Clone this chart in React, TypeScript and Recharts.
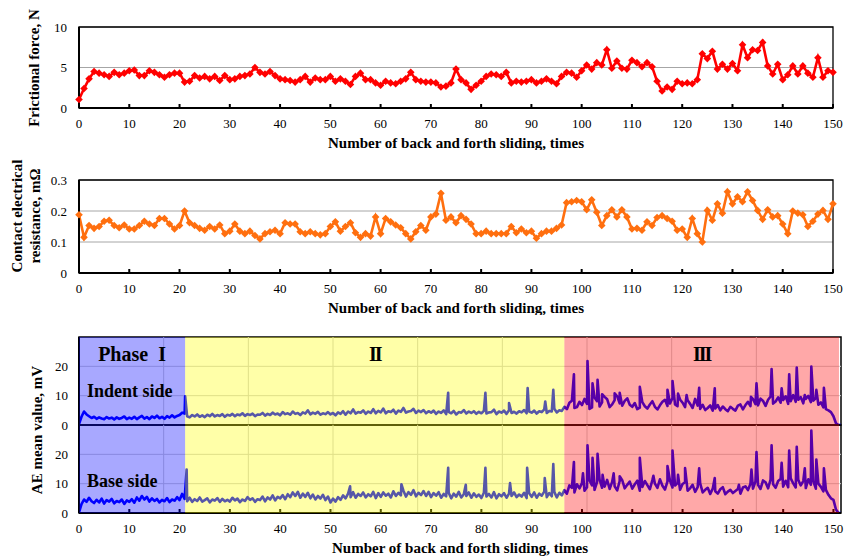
import React from 'react'
import {
  LineChart, Line, XAxis, YAxis, CartesianGrid, ReferenceArea, ReferenceLine,
} from 'recharts'

// x axis: number of back and forth sliding
const X_TICKS = [0, 10, 20, 30, 40, 50, 60, 70, 80, 90, 100, 110, 120, 130, 140, 150]

// frictional force, N (one value per sliding, 0..150)
const FRICTION = [
  1.05, 2.4, 3.6, 4.5, 4.3, 4.1, 3.9, 4.4, 4.1, 4.3,
  4.6, 4.7, 4.0, 4.0, 4.6, 4.4, 4.1, 3.8, 4.1, 4.3,
  4.3, 3.2, 3.3, 4.0, 3.7, 3.9, 3.6, 3.9, 3.4, 4.0,
  3.5, 3.6, 3.9, 4.0, 4.2, 5.0, 4.4, 4.2, 4.5, 4.0,
  3.6, 3.5, 3.4, 3.2, 3.5, 3.9, 3.2, 3.7, 3.5, 3.5,
  3.9, 3.3, 3.6, 3.3, 2.9, 3.9, 4.3, 3.5, 3.5, 3.1,
  2.8, 3.3, 3.1, 3.0, 3.3, 3.6, 4.4, 3.5, 3.3, 3.2,
  3.2, 3.1, 2.6, 2.7, 3.1, 4.8, 3.5, 3.1, 2.3, 2.8,
  3.3, 3.9, 4.2, 4.1, 3.9, 4.4, 3.1, 3.3, 3.2, 3.3,
  3.5, 3.1, 3.3, 3.6, 3.3, 3.0, 3.9, 4.4, 4.3, 3.8,
  4.6, 5.3, 4.8, 5.6, 5.3, 7.2, 4.9, 5.8, 4.9, 4.8,
  5.9, 5.6, 5.1, 5.6, 5.1, 3.3, 2.1, 2.6, 2.3, 3.3,
  3.0, 3.1, 3.0, 3.5, 6.7, 6.1, 7.0, 4.8, 5.4, 4.8,
  5.5, 4.6, 7.8, 6.2, 7.2, 7.1, 8.1, 5.2, 4.2, 5.4,
  3.5, 4.1, 5.2, 4.2, 5.2, 4.3, 3.8, 6.2, 3.8, 4.6,
  4.4,
]

// contact electrical resistance, mΩ
const RESISTANCE = [
  0.188, 0.115, 0.153, 0.144, 0.15, 0.167, 0.17, 0.153, 0.146, 0.155,
  0.142, 0.142, 0.153, 0.167, 0.158, 0.153, 0.176, 0.176, 0.158, 0.142,
  0.153, 0.2, 0.162, 0.153, 0.144, 0.138, 0.15, 0.142, 0.155, 0.127,
  0.135, 0.158, 0.135, 0.127, 0.135, 0.121, 0.11, 0.127, 0.133, 0.138,
  0.127, 0.162, 0.158, 0.158, 0.133, 0.127, 0.133, 0.127, 0.123, 0.127,
  0.15, 0.165, 0.135, 0.15, 0.162, 0.13, 0.115, 0.127, 0.119, 0.181,
  0.127, 0.176, 0.165, 0.155, 0.146, 0.127, 0.11, 0.133, 0.153, 0.138,
  0.181, 0.19, 0.257, 0.17, 0.181, 0.162, 0.185, 0.173, 0.158, 0.127,
  0.127, 0.135, 0.127, 0.127, 0.127, 0.127, 0.15, 0.13, 0.142, 0.13,
  0.135, 0.112, 0.127, 0.135, 0.135, 0.144, 0.155, 0.227, 0.23, 0.234,
  0.23, 0.204, 0.236, 0.196, 0.153, 0.185, 0.204, 0.181, 0.204, 0.181,
  0.142, 0.144, 0.138, 0.165, 0.153, 0.179, 0.185, 0.176, 0.167, 0.138,
  0.142, 0.115, 0.176, 0.127, 0.1, 0.202, 0.17, 0.223, 0.193, 0.262,
  0.223, 0.246, 0.23, 0.262, 0.234, 0.202, 0.173, 0.204, 0.181, 0.185,
  0.158, 0.127, 0.2, 0.193, 0.188, 0.15, 0.167, 0.19, 0.202, 0.173,
  0.223,
]

// AE mean value, mV, sampled every half sliding (0..151.5)
const AE_STEP = 0.5
const AE_X_MAX = 151.5

const AE_INDENT = [
  0.3, 2.8, 4.6, 3.6, 3.0, 2.4, 2.8, 2.1, 2.6, 2.2, 2.0, 2.7, 2.2, 2.5, 1.9, 2.6, 2.1, 2.4, 2.9, 2.0,
  2.5, 2.1, 2.8, 2.0, 2.6, 3.1, 2.2, 2.7, 2.0, 2.9, 2.4, 3.2, 2.3, 2.8, 2.1, 3.0, 2.5, 3.3, 2.6, 3.1,
  3.4, 4.2, 3.9, 3.0, 2.6, 3.4, 2.9, 3.6, 2.8, 3.3, 2.7, 3.5, 3.0, 3.8, 2.9, 3.4, 3.1, 3.7, 2.8, 3.5,
  3.2, 3.8, 3.0, 3.6, 3.3, 4.0, 3.1, 3.7, 3.4, 3.9, 3.0, 3.6, 3.5, 4.1, 3.2, 3.8, 3.4, 4.2, 3.6, 3.9,
  3.3, 4.4, 3.7, 4.0, 3.5, 4.6, 3.8, 4.1, 3.4, 4.3, 3.9, 5.0, 3.6, 4.2, 3.8, 4.5, 3.5, 4.0, 3.7, 4.4,
  3.6, 4.1, 3.3, 4.3, 3.8, 4.7, 3.5, 4.6, 4.0, 5.3, 3.9, 4.4, 4.2, 5.0, 3.8, 4.6, 4.1, 5.4, 4.0, 4.8,
  4.3, 5.6, 4.0, 4.7, 4.4, 5.2, 3.9, 4.9, 4.5, 5.8, 4.2, 4.6, 4.8, 5.5, 4.1, 4.9, 4.4, 5.1, 4.0, 4.7,
  4.2, 4.9, 3.8, 4.6, 4.1, 5.0, 3.7, 4.5, 4.0, 4.8, 3.6, 4.4, 4.2, 5.1, 3.9, 4.6, 4.1, 4.7, 3.8, 4.5,
  4.0, 4.8, 3.9, 4.3, 4.4, 5.2, 3.7, 4.6, 4.2, 4.9, 3.8, 5.0, 4.1, 4.5, 3.9, 4.7, 4.3, 5.1, 4.0, 4.6,
  4.2, 4.9, 3.9, 4.7, 4.4, 5.3, 4.1, 4.8, 4.6, 5.5, 4.3, 5.0, 4.8, 6.2, 5.4, 7.6, 8.3, 5.8, 6.1, 7.9,
  6.8, 8.9, 7.2, 5.5, 6.0, 9.4, 8.1, 6.3, 7.7, 9.6, 8.8, 6.1, 7.0, 8.5, 9.8, 7.4, 6.6, 8.2, 9.1, 6.9,
  6.2, 7.5, 5.4, 5.9, 7.8, 6.4, 5.6, 7.0, 8.1, 6.2, 5.3, 6.7, 7.9, 8.6, 6.5, 7.3, 9.2, 7.0, 6.4, 8.7,
  7.6, 6.1, 8.4, 7.2, 5.8, 8.9, 6.6, 5.5, 6.9, 5.1, 5.8, 6.7, 4.9, 5.6, 6.8, 5.0, 6.3, 5.4, 4.7, 6.2,
  5.5, 4.9, 6.6, 7.0, 5.3, 6.8, 7.9, 6.4, 8.8, 7.1, 6.7, 9.0, 8.2, 6.5, 8.6, 9.7, 7.3, 8.0, 9.4, 7.6,
  8.5, 9.8, 7.2, 8.1, 10.2, 7.9, 8.6, 9.5, 7.4, 8.9, 9.9, 7.8, 8.3, 9.2, 6.9, 7.7, 6.0, 5.4, 5.0, 4.4,
  3.0, 0.6, 0, 0,
]

const AE_BASE = [
  0.2, 3.0, 4.6, 3.8, 5.2, 4.0, 3.4, 4.5, 3.6, 4.9, 3.2, 4.4, 3.9, 4.8, 3.3, 4.1, 3.7, 4.6, 3.1, 4.3,
  3.8, 4.7, 3.5, 5.3, 4.2, 5.8, 4.6, 5.5, 3.9, 5.0, 4.1, 4.8, 3.6, 4.5, 4.0, 5.1, 3.7, 4.6, 4.2, 5.4,
  4.4, 6.5, 4.8, 4.0, 5.2, 3.8, 4.7, 4.1, 5.3, 3.9, 4.4, 5.0, 3.6, 4.6, 4.2, 5.1, 3.8, 4.8, 4.0, 4.5,
  3.9, 5.2, 4.3, 4.9, 3.7, 4.6, 4.1, 5.4, 4.5, 5.0, 3.8, 4.7, 4.4, 5.6, 4.0, 5.3, 4.6, 6.0, 4.3, 5.5,
  5.0, 6.1, 4.7, 6.4, 5.4, 7.0, 5.8, 7.2, 5.2, 6.6, 5.5, 6.9, 5.0, 6.3, 4.6, 5.8, 4.9, 6.2, 4.4, 5.6,
  3.6, 4.9, 3.9, 5.4, 4.5, 6.0, 5.0, 6.6, 5.4, 7.1, 5.2, 6.5, 5.8, 7.0, 5.3, 6.4, 5.7, 7.2, 5.1, 6.8,
  5.5, 7.0, 5.9, 6.6, 5.3, 7.4, 5.8, 6.9, 6.0, 7.6, 5.6, 7.1, 6.2, 7.8, 5.7, 6.9, 6.1, 7.5, 5.8, 7.2,
  5.4, 6.8, 5.9, 7.1, 5.2, 6.5, 5.7, 6.9, 5.0, 6.6, 5.6, 7.2, 5.3, 6.4, 5.8, 7.0, 5.2, 6.7, 5.5, 6.3,
  5.1, 6.9, 5.6, 6.5, 5.3, 7.1, 5.0, 6.4, 5.7, 6.8, 5.2, 6.6, 5.8, 7.0, 5.4, 6.3, 5.6, 6.9, 5.1, 6.7,
  5.5, 7.0, 5.2, 6.6, 5.9, 7.3, 5.4, 6.8, 5.7, 7.2, 5.3, 6.9, 6.0, 7.8, 6.6, 9.4, 8.6, 7.0, 9.8, 8.4,
  10.2, 7.6, 8.8, 11.1, 9.4, 7.9, 10.5, 11.4, 8.6, 9.0, 11.3, 8.2, 10.6, 9.1, 7.7, 10.9, 11.2, 8.4, 9.6, 10.7,
  8.3, 9.8, 11.0, 7.6, 8.9, 10.9, 9.5, 8.1, 11.2, 10.0, 8.6, 11.5, 9.3, 8.0, 10.8, 11.0, 8.7, 9.4, 10.2, 7.9,
  9.9, 10.5, 7.6, 8.4, 9.6, 7.2, 8.8, 10.1, 7.0, 7.9, 8.6, 6.5, 8.3, 7.4, 6.6, 8.1, 8.8, 6.4, 7.3, 7.9,
  6.8, 7.5, 8.2, 6.6, 8.7, 9.1, 7.8, 10.0, 8.3, 10.8, 9.6, 8.2, 11.1, 10.5, 8.4, 11.4, 9.8, 8.6, 10.9, 11.6,
  9.0, 11.0, 8.8, 11.8, 10.1, 8.7, 11.3, 9.4, 10.9, 8.5, 11.5, 9.6, 10.8, 8.3, 10.0, 8.9, 7.4, 7.9, 6.2, 5.0,
  4.5, 1.2, 0, 0,
]

// narrow peaks: [sliding, mV]
const INDENT_SPIKES: [number, number][] = [
  [21.1, 9.8], [73.4, 11], [80.8, 11], [85.5, 7.5], [89.2, 12.6], [92.7, 8], [94.3, 12],
  [98.4, 17.3], [101.1, 21.8], [102.1, 14.2], [103.1, 15.4], [104, 10.5], [106.5, 10.8],
  [107.5, 11], [111.5, 13], [117, 12], [118, 15], [119.1, 10.7], [120.8, 10.2], [123.3, 12.7],
  [126.4, 12.5], [133.6, 9.6], [134.7, 14.2], [137.7, 19.1], [139.7, 12.5], [141.2, 17.3],
  [142.7, 19.6], [144.3, 10.2], [145.6, 19.9], [146.6, 12], [148.1, 12.7],
]

const BASE_SPIKES: [number, number][] = [
  [21.4, 14.8], [53.9, 9.1], [64.1, 9.8], [73.4, 15.4], [76.9, 9.6], [80.8, 15.4], [85.7, 10.2],
  [89.1, 15.4], [92.6, 11.9], [94.3, 16.7], [98.4, 17.4], [100.2, 13.5], [101.1, 23.1],
  [102.1, 18.8], [103.1, 20.2], [104.1, 13], [106.3, 13.5], [107.5, 12.5], [111.5, 18.8],
  [114.2, 12.7], [117, 16], [118, 21.3], [119.1, 13], [120.5, 15.3], [123.3, 15.2],
  [126.4, 11.9], [131.2, 9.6], [133.7, 14.8], [134.7, 20.8], [137.7, 23.1], [139.7, 17.1],
  [141.2, 21.3], [142.7, 22.6], [144.3, 15.2], [145.6, 28.1], [146.6, 18.2], [148.1, 15.2],
]

const PHASES = [
  { name: 'Phase\u00a0\u00a0I', from: 0, to: 21.1, color: '#0000ff', spacing: 0 },
  { name: 'II', from: 21.1, to: 96.5, color: '#ffff00', spacing: -2 },
  { name: 'III', from: 96.5, to: 151.1, color: '#ff0000', spacing: -2 },
]

const rows = FRICTION.map((f, i) => ({ n: i, f, r: RESISTANCE[i] }))

function buildAE(base: number[], spikes: [number, number][]) {
  const pts = base.map((y, i) => ({ x: i * AE_STEP, y }))
  spikes.forEach(([x, y]) => pts.push({ x, y }))
  return pts.sort((a, b) => a.x - b.x)
}

const indentPts = buildAE(AE_INDENT, INDENT_SPIKES)
const basePts = buildAE(AE_BASE, BASE_SPIKES)
const aeGridX = [1, 2, 3, 4, 5, 6, 7, 8].map(k => (k * AE_X_MAX) / 9)

const FONT = "'Liberation Serif', 'Times New Roman', serif"
const TICK = { fontSize: 13, fill: '#000', fontFamily: FONT }
const X_TITLE = {
  value: 'Number of back and forth sliding, times',
  position: 'insideBottom' as const,
  offset: 2,
  fontSize: 15,
  fontWeight: 700,
  fill: '#000',
  fontFamily: FONT,
}

function diamond(color: string, r: number) {
  return (props: any) => {
    const { cx, cy, index } = props
    if (cx == null || cy == null) return <g key={`d-${index}`} />
    return (
      <polygon
        key={`d-${index}`}
        points={`${cx},${cy - r} ${cx + r},${cy} ${cx},${cy + r} ${cx - r},${cy}`}
        fill={color}
      />
    )
  }
}

const yTitle: React.CSSProperties = {
  position: 'absolute',
  transform: 'translate(-50%, -50%) rotate(-90deg)',
  fontWeight: 700,
  fontSize: 15,
  lineHeight: '18px',
  whiteSpace: 'nowrap',
  textAlign: 'center',
}

const sideLabel: React.CSSProperties = {
  position: 'absolute',
  left: 87,
  fontWeight: 700,
  fontSize: 18,
  lineHeight: '18px',
  whiteSpace: 'nowrap',
}

function SmallChart({ top, height, marginTop, dataKey, color, domain, ticks }: {
  top: number, height: number, marginTop: number, dataKey: string, color: string,
  domain: [number, number], ticks: number[]
}) {
  const plotBottom = height - 42
  return (
    <div style={{ position: 'absolute', left: 0, top }}>
      <LineChart
        width={845}
        height={height}
        data={rows}
        margin={{ top: marginTop, right: 12, bottom: height - plotBottom - 42, left: 39 }}
      >
        <CartesianGrid vertical={false} stroke="#a6a6a6" />
        <XAxis
          dataKey="n"
          type="number"
          domain={[0, 150]}
          ticks={X_TICKS}
          interval={0}
          height={42}
          stroke="#000"
          strokeWidth={2}
          tickSize={-4}
          tickMargin={15}
          tick={TICK}
          label={X_TITLE}
        />
        <YAxis
          domain={domain}
          ticks={ticks}
          width={40}
          stroke="#000"
          strokeWidth={2}
          tickLine={false}
          tickSize={0}
          tickMargin={12}
          tick={TICK}
        />
        <ReferenceArea x1={0} x2={150} y1={domain[0]} y2={domain[1]} fill="none" stroke="#000" strokeWidth={1.3} />
        <Line
          type="linear"
          dataKey={dataKey}
          stroke={color}
          strokeWidth={2.6}
          dot={diamond(color, 3.8)}
          activeDot={false}
          isAnimationActive={false}
        />
      </LineChart>
    </div>
  )
}

function AEChart({ top, height, marginTop, marginBottom, pts, showAxis }: {
  top: number, height: number, marginTop: number, marginBottom: number,
  pts: { x: number, y: number }[], showAxis: boolean
}) {
  return (
    <div style={{ position: 'absolute', left: 0, top }}>
      <LineChart width={845} height={height} margin={{ top: marginTop, right: 4, bottom: marginBottom, left: 39 }}>
        <XAxis
          dataKey="x"
          type="number"
          domain={[0, AE_X_MAX]}
          allowDataOverflow
          ticks={X_TICKS}
          interval={0}
          hide={!showAxis}
          height={42}
          stroke="#000"
          strokeWidth={2}
          tickSize={-4}
          tickMargin={15}
          tick={TICK}
          label={X_TITLE}
        />
        <YAxis
          dataKey="y"
          domain={[0, 30]}
          allowDataOverflow
          ticks={[0, 10, 20]}
          width={40}
          stroke="#000"
          strokeWidth={2}
          tickLine={false}
          tickSize={0}
          tickMargin={11}
          tick={TICK}
        />
        {[10, 20].map(v => (
          <ReferenceLine key={`h${v}`} y={v} stroke="#cfcfcf" strokeWidth={1} />
        ))}
        {aeGridX.map(v => (
          <ReferenceLine key={`v${v}`} x={v} stroke="#cfcfcf" strokeWidth={1} />
        ))}
        <Line
          data={pts}
          type="linear"
          dataKey="y"
          stroke="#0000ff"
          strokeWidth={2.6}
          strokeLinejoin="round"
          dot={false}
          activeDot={false}
          isAnimationActive={false}
        />
        <ReferenceArea x1={0} x2={AE_X_MAX} y1={0} y2={30} fill="none" stroke="#000" strokeWidth={1.5} />
      </LineChart>
    </div>
  )
}

function PhaseOverlay() {
  return (
    <div style={{ position: 'absolute', left: 0, top: 330 }}>
      <LineChart
        width={845}
        height={190}
        data={[{ x: 0, y: 0 }, { x: AE_X_MAX, y: 1 }]}
        margin={{ top: 7, right: 4, bottom: 7, left: 79 }}
      >
        <XAxis dataKey="x" type="number" domain={[0, AE_X_MAX]} hide />
        <YAxis dataKey="y" domain={[0, 1]} hide />
        {PHASES.map(p => (
          <ReferenceArea
            key={p.name}
            x1={p.from}
            x2={p.to}
            y1={0}
            y2={1}
            fill={p.color}
            fillOpacity={0.34}
            stroke="none"
            label={{
              value: p.name,
              position: 'insideTop',
              offset: 10,
              fontSize: 20,
              fontWeight: 700,
              fill: '#000',
              fontFamily: FONT,
              letterSpacing: p.spacing,
            }}
          />
        ))}
      </LineChart>
    </div>
  )
}

export default function App() {
  return (
    <div
      style={{
        position: 'absolute', left: 0, top: 0, width: 845, height: 557,
        background: '#fff', fontFamily: FONT, color: '#000', overflow: 'hidden',
      }}
    >
      <SmallChart top={0} height={150} marginTop={27} dataKey="f" color="#ff0000" domain={[0, 10]} ticks={[0, 5, 10]} />
      <SmallChart top={150} height={165} marginTop={30} dataKey="r" color="#ff6f0f" domain={[0, 0.3]} ticks={[0, 0.1, 0.2, 0.3]} />
      <AEChart top={320} height={120} marginTop={17} marginBottom={15} pts={indentPts} showAxis={false} />
      <AEChart top={415} height={142} marginTop={10} marginBottom={2} pts={basePts} showAxis />
      <PhaseOverlay />

      <div style={{ ...yTitle, left: 34, top: 68 }}>Frictional force, N</div>
      <div style={{ ...yTitle, left: 26, top: 216 }}>Contact electrical<br />resistance, mΩ</div>
      <div style={{ ...yTitle, left: 37, top: 430 }}>AE mean value, mV</div>
      <div style={{ ...sideLabel, top: 382 }}>Indent side</div>
      <div style={{ ...sideLabel, top: 472 }}>Base side</div>
    </div>
  )
}
